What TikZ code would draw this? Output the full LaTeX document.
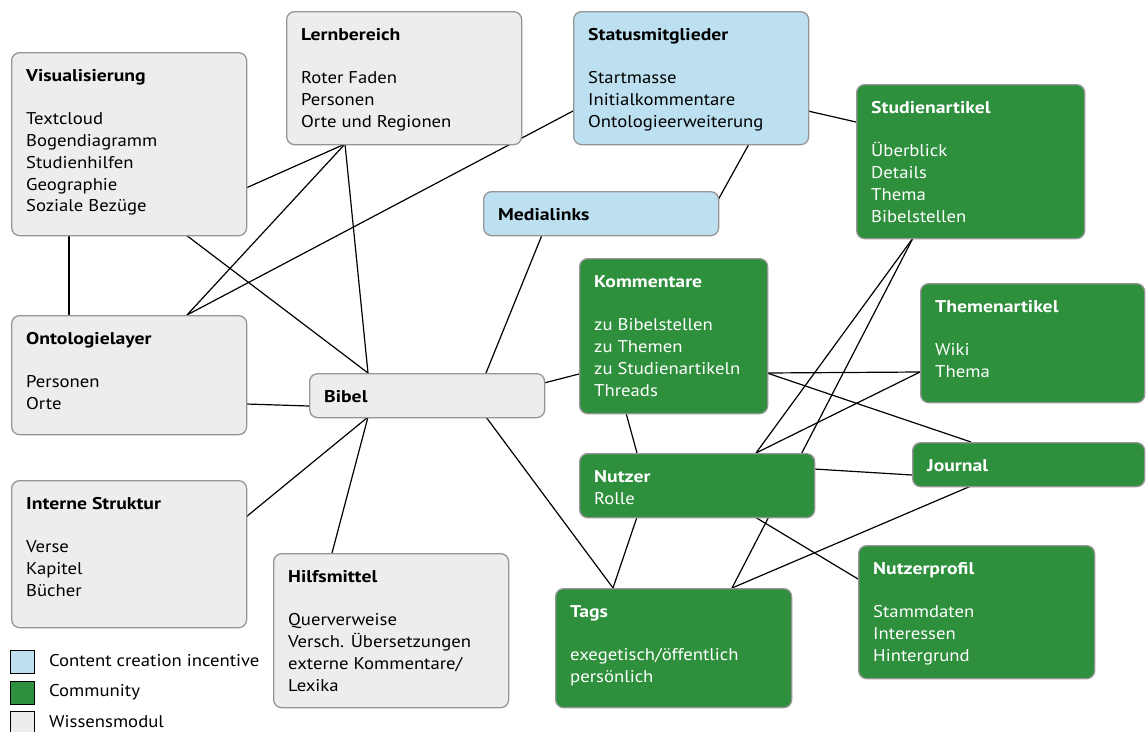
\documentclass[tikz,border=0pt]{standalone}
\usepackage{fontspec}
\setmainfont{PT Sans}[FakeStretch=1.10, BoldFeatures={FakeStretch=1.16}]
\usetikzlibrary{calc}

\definecolor{wgray}{RGB}{237,237,237}
\definecolor{cblue}{RGB}{189,224,241}
\definecolor{cgreen}{RGB}{46,143,60}
\definecolor{frame}{RGB}{150,150,150}

\pgfdeclarelayer{background}
\pgfsetlayers{background,main}

\tikzset{
  box/.style={draw=frame, line width=1.3pt, rounded corners=8pt, anchor=north west, inner sep=0pt},
  wissen/.style={box, fill=wgray},
  incent/.style={box, fill=cblue},
  commu/.style={box, fill=cgreen},
  link/.style={line width=1.2pt, black},
  content/.style={anchor=north west, inner sep=0pt, align=left, font=\fontsize{17}{21.7}\selectfont},
  legsq/.style={draw=black, line width=0.9pt, anchor=north west, inner sep=0pt, minimum width=24pt, minimum height=23pt},
  legtxt/.style={anchor=west, inner sep=0pt, font=\fontsize{17}{21.7}\selectfont},
}

% #1 name, #2 style, #3,#4 top left, #5,#6 bottom right, #7 text colour, #8 text
\newcommand\modbox[8]{%
  \node[#2, minimum width={#5-#3}, minimum height={#6-#4}] (#1) at (#3,#4) {};
  \node[content, text=#7] (#1-t) at ($(#1.north west)+(15,15.3)$) {\rule{0pt}{14pt}#8};
}

\begin{document}
\begin{tikzpicture}[x=1pt,y=-1pt]
\clip (0,0) rectangle (1146,731);

% Wissensmodule
\modbox{vis}{wissen}{11}{52}{246}{235}{black}{\textbf{Visualisierung}\\[21.7pt]Textcloud\\Bogendiagramm\\Studienhilfen\\Geographie\\Soziale Bezüge}
\modbox{lern}{wissen}{286}{11}{521}{144}{black}{\textbf{Lernbereich}\\[21.7pt]Roter Faden\\Personen\\Orte und Regionen}
\modbox{onto}{wissen}{11}{315}{246}{434}{black}{\textbf{Ontologielayer}\\[21.7pt]Personen\\Orte}
\modbox{bib}{wissen}{309}{373}{544}{417}{black}{\textbf{Bibel}}
\modbox{intern}{wissen}{11}{480}{246}{627}{black}{\textbf{Interne Struktur}\\[21.7pt]Verse\\Kapitel\\Bücher}
\modbox{hilf}{wissen}{273}{553}{508}{707}{black}{\textbf{Hilfsmittel}\\[21.7pt]Querverweise\\Versch. Übersetzungen\\externe Kommentare/\\Lexika}

% Content creation incentive
\modbox{stat}{incent}{573}{11}{808}{144}{black}{\textbf{Statusmitglieder}\\[21.7pt]Startmasse\\Initialkommentare\\Ontologieerweiterung}
\modbox{med}{incent}{483}{191}{718}{235}{black}{\textbf{Medialinks}}

% Community
\modbox{stud}{commu}{856}{84}{1084}{238}{white}{\textbf{Studienartikel}\\[21.7pt]Überblick\\Details\\Thema\\Bibelstellen}
\modbox{komm}{commu}{579}{258}{767}{413}{white}{\textbf{Kommentare}\\[21.7pt]zu Bibelstellen\\zu Themen\\zu Studienartikeln\\Threads}
\modbox{them}{commu}{920}{283}{1144}{402}{white}{\textbf{Themenartikel}\\[21.7pt]Wiki\\Thema}
\modbox{jour}{commu}{912}{442}{1144}{486}{white}{\textbf{Journal}}
\modbox{nutz}{commu}{579}{453}{814}{517}{white}{\textbf{Nutzer}\\Rolle}
\modbox{tags}{commu}{555}{588}{791}{707}{white}{\textbf{Tags}\\[21.7pt]exegetisch/öffentlich\\persönlich}
\modbox{nprof}{commu}{858}{545}{1094}{678}{white}{\textbf{Nutzerprofil}\\[21.7pt]Stammdaten\\Interessen\\Hintergrund}

% connection points on the box borders
\coordinate (visR)   at ($(vis.north west)+(235,136)$);
\coordinate (visB1)  at ($(vis.north west)+(58,183)$);
\coordinate (visB2)  at ($(vis.north west)+(175,183)$);
\coordinate (lernB)  at ($(lern.north west)+(59,133)$);
\coordinate (statL)  at ($(stat.north west)+(0,100)$);
\coordinate (statR)  at ($(stat.north west)+(235,100)$);
\coordinate (statB)  at ($(stat.north west)+(176,133)$);
\coordinate (medR)   at ($(med.north west)+(235,9)$);
\coordinate (medB)   at ($(med.north west)+(59,44)$);
\coordinate (studL)  at ($(stud.north west)+(0,38)$);
\coordinate (studB)  at ($(stud.north west)+(57,154)$);
\coordinate (ontoT1) at ($(onto.north west)+(58,0)$);
\coordinate (ontoT2) at ($(onto.north west)+(176,0)$);
\coordinate (ontoR)  at ($(onto.north west)+(235,89)$);
\coordinate (bibT1)  at ($(bib.north west)+(59,0)$);
\coordinate (bibT2)  at ($(bib.north west)+(177,0)$);
\coordinate (bibB1)  at ($(bib.north west)+(59,44)$);
\coordinate (bibB2)  at ($(bib.north west)+(177,44)$);
\coordinate (bibL)   at ($(bib.north west)+(0,33)$);
\coordinate (bibR)   at ($(bib.north west)+(235,10)$);
\coordinate (intR)   at ($(intern.north west)+(235,37)$);
\coordinate (hilfT)  at ($(hilf.north west)+(59,0)$);
\coordinate (kommL)  at ($(komm.north west)+(0,116)$);
\coordinate (kommR)  at ($(komm.north west)+(188,115)$);
\coordinate (kommB)  at ($(komm.north west)+(47,155)$);
\coordinate (themL)  at ($(them.north west)+(0,89)$);
\coordinate (jourT)  at ($(jour.north west)+(59,0)$);
\coordinate (jourL)  at ($(jour.north west)+(0,33)$);
\coordinate (jourB)  at ($(jour.north west)+(59,44)$);
\coordinate (nutzT1) at ($(nutz.north west)+(58,0)$);
\coordinate (nutzT2) at ($(nutz.north west)+(177,0)$);
\coordinate (nutzR)  at ($(nutz.north west)+(235,16)$);
\coordinate (nutzB1) at ($(nutz.north west)+(58,64)$);
\coordinate (nutzB2) at ($(nutz.north west)+(176,64)$);
\coordinate (tagsT1) at ($(tags.north west)+(58,0)$);
\coordinate (tagsT2) at ($(tags.north west)+(177,0)$);
\coordinate (nprofL) at ($(nprof.north west)+(0,34)$);

% connectors, drawn behind the boxes
\begin{pgfonlayer}{background}
\fill[white] (0,0) rectangle (1146,731);
\draw[link] (visR) -- (lernB);
\draw[link] (lernB) -- (ontoT2);
\draw[link] (statL) -- (ontoT2);
\draw[link] (lernB) -- (bibT1);
\draw[link] (visB1) -- (ontoT1);
\draw[link] (visB2) -- (bibT1);
\draw[link] (ontoR) -- (bibL);
\draw[link] (bibB1) -- (intR);
\draw[link] (bibB1) -- (hilfT);
\draw[link] (bibT2) -- (medB);
\draw[link] (bibR) -- (kommL);
\draw[link] (bibB2) -- (tagsT1);
\draw[link] (statB) -- (medR);
\draw[link] (statR) -- (studL);
\draw[link] (kommR) -- (themL);
\draw[link] (kommR) -- (jourT);
\draw[link] (kommB) -- (nutzT1);
\draw[link] (nutzT2) -- (studB);
\draw[link] (nutzT2) -- (themL);
\draw[link] (studB) -- (tagsT2);
\draw[link] (tagsT2) -- (jourB);
\draw[link] (nutzB1) -- (tagsT1);
\draw[link] (nutzB2) -- (nprofL);
\draw[link] (nutzR) -- (jourL);
\end{pgfonlayer}

% legend
\node[legsq, fill=cblue] (legA) at (10,650) {};
\node[legsq, fill=cgreen] (legB) at (10,681) {};
\node[legsq, fill=wgray] (legC) at (10,711) {};
\node[legtxt] (legAt) at (49,661) {Content creation incentive};
\node[legtxt] (legBt) at (49,692) {Community};
\node[legtxt] (legCt) at (49,722) {Wissensmodul};
\end{tikzpicture}
\end{document}
